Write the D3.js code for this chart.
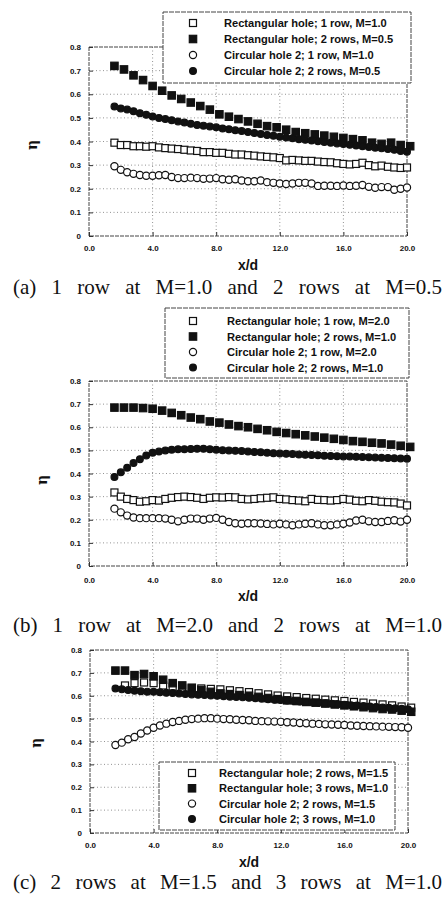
<!DOCTYPE html>
<html>
<head>
<meta charset="utf-8">
<script src="https://cdn.jsdelivr.net/npm/d3@7"></script>
<style>
  body { margin: 0; background: #fff; }
  svg { display: block; }
</style>
</head>
<body>
<svg id="chart" width="445" height="902"></svg>
<script>
// x/d stations, dense series (every 0.4) and sparse series (every 0.6)
const xDense = [1.6, 2.0, 2.4, 2.8, 3.2, 3.6, 4.0, 4.4, 4.8, 5.2, 5.6, 6.0, 6.4, 6.8, 7.2, 7.6,
  8.0, 8.4, 8.8, 9.2, 9.6, 10.0, 10.4, 10.8, 11.2, 11.6, 12.0, 12.4, 12.8, 13.2, 13.6, 14.0,
  14.4, 14.8, 15.2, 15.6, 16.0, 16.4, 16.8, 17.2, 17.6, 18.0, 18.4, 18.8, 19.2, 19.6, 20.0];
const xSparse = [1.6, 2.2, 2.8, 3.4, 4.0, 4.6, 5.2, 5.8, 6.4, 7.0, 7.6, 8.2, 8.8, 9.4, 10.0, 10.6,
  11.2, 11.8, 12.4, 13.0, 13.6, 14.2, 14.8, 15.4, 16.0, 16.6, 17.2, 17.8, 18.4, 19.0, 19.6, 20.2];
const xSparseC = [2.2, 2.8, 3.4, 4.0, 4.6, 5.2, 5.8, 6.4, 7.0, 7.6, 8.2, 8.8, 9.4, 10.0, 10.6,
  11.2, 11.8, 12.4, 13.0, 13.6, 14.2, 14.8, 15.4, 16.0, 16.6, 17.2, 17.8, 18.4, 19.0, 19.6, 20.2];

const xTicks = [0, 4, 8, 12, 16, 20];
const yTicks = [0, 0.1, 0.2, 0.3, 0.4, 0.5, 0.6, 0.7, 0.8];

// ---- panel (a)
const aRect1 = [0.395, 0.385, 0.385, 0.38, 0.38, 0.378, 0.38, 0.375, 0.372, 0.37, 0.368, 0.365, 0.362, 0.36, 0.355, 0.355,
  0.352, 0.352, 0.348, 0.345, 0.345, 0.342, 0.34, 0.337, 0.335, 0.333, 0.33, 0.32, 0.322, 0.32, 0.318, 0.318,
  0.315, 0.313, 0.312, 0.308, 0.305, 0.303, 0.305, 0.31, 0.3, 0.295, 0.298, 0.293, 0.29, 0.288, 0.29];
const aRect2 = [0.72, 0.705, 0.68, 0.66, 0.635, 0.615, 0.595, 0.58, 0.565, 0.55, 0.535, 0.515, 0.505, 0.495, 0.485, 0.475,
  0.465, 0.46, 0.45, 0.44, 0.435, 0.43, 0.425, 0.42, 0.415, 0.41, 0.405, 0.395, 0.39, 0.395, 0.385, 0.38];
const aCirc1 = [0.295, 0.28, 0.27, 0.263, 0.258, 0.255, 0.255, 0.257, 0.258, 0.25, 0.245, 0.245, 0.247, 0.245, 0.242, 0.243,
  0.245, 0.24, 0.238, 0.24, 0.235, 0.232, 0.232, 0.235, 0.228, 0.225, 0.222, 0.22, 0.222, 0.225, 0.225, 0.222,
  0.212, 0.213, 0.213, 0.212, 0.214, 0.212, 0.213, 0.216, 0.208, 0.204, 0.207, 0.207, 0.196, 0.2, 0.205];
const aCirc2 = [0.548, 0.54, 0.535, 0.528, 0.52, 0.513, 0.506, 0.5, 0.495, 0.49, 0.485, 0.48, 0.475, 0.47, 0.467, 0.463,
  0.46, 0.455, 0.452, 0.448, 0.444, 0.44, 0.436, 0.432, 0.428, 0.424, 0.42, 0.417, 0.414, 0.41, 0.407, 0.404,
  0.401, 0.398, 0.395, 0.392, 0.389, 0.386, 0.383, 0.38, 0.377, 0.374, 0.371, 0.368, 0.365, 0.36, 0.357];

// ---- panel (b)
const bRect1 = [0.318, 0.3, 0.29, 0.285, 0.278, 0.28, 0.285, 0.283, 0.29, 0.295, 0.298, 0.3, 0.298, 0.295, 0.29, 0.295,
  0.297, 0.296, 0.298, 0.297, 0.29, 0.288, 0.29, 0.293, 0.295, 0.297, 0.29, 0.288, 0.285, 0.283, 0.28, 0.29,
  0.286, 0.285, 0.283, 0.285, 0.29, 0.287, 0.282, 0.28, 0.285, 0.282, 0.278, 0.276, 0.275, 0.27, 0.262];
const bRect2 = [0.685, 0.685, 0.685, 0.683, 0.68, 0.672, 0.662, 0.652, 0.642, 0.635, 0.625, 0.62, 0.612, 0.605, 0.6, 0.593,
  0.587, 0.58, 0.575, 0.57, 0.565, 0.56, 0.555, 0.55, 0.545, 0.54, 0.537, 0.533, 0.53, 0.525, 0.52, 0.515];
const bCirc1 = [0.248, 0.232, 0.218, 0.21, 0.207, 0.207, 0.207, 0.207, 0.205, 0.2, 0.193, 0.2, 0.205, 0.205, 0.2, 0.205,
  0.208, 0.2, 0.19, 0.185, 0.183, 0.185, 0.185, 0.184, 0.182, 0.18, 0.183, 0.18, 0.176, 0.18, 0.183, 0.185,
  0.18, 0.176, 0.176, 0.18, 0.183, 0.188, 0.197, 0.2, 0.193, 0.19, 0.19, 0.195, 0.198, 0.192, 0.2];
const bCirc2 = [0.385, 0.405, 0.425, 0.445, 0.462, 0.478, 0.49, 0.495, 0.5, 0.503, 0.505, 0.505, 0.506, 0.507, 0.507, 0.505,
  0.503, 0.501, 0.5, 0.498, 0.497, 0.495, 0.493, 0.492, 0.49, 0.488, 0.486, 0.485, 0.484, 0.482, 0.481, 0.48,
  0.479, 0.477, 0.476, 0.475, 0.474, 0.473, 0.472, 0.471, 0.47, 0.469, 0.468, 0.467, 0.466, 0.465, 0.464];

// ---- panel (c)
const cRect2 = [0.645, 0.655, 0.658, 0.655, 0.645, 0.64, 0.635, 0.632, 0.632, 0.63, 0.628, 0.624, 0.62, 0.616, 0.611,
  0.606, 0.601, 0.597, 0.594, 0.59, 0.587, 0.583, 0.58, 0.577, 0.573, 0.57, 0.566, 0.562, 0.558, 0.553, 0.548];
const cRect3 = [0.71, 0.71, 0.69, 0.695, 0.685, 0.67, 0.655, 0.645, 0.635, 0.625, 0.617, 0.61, 0.607, 0.603, 0.6, 0.595,
  0.59, 0.585, 0.58, 0.577, 0.573, 0.57, 0.566, 0.562, 0.558, 0.554, 0.55, 0.546, 0.542, 0.54, 0.535, 0.53];
const cCirc2 = [0.385, 0.395, 0.41, 0.42, 0.435, 0.448, 0.46, 0.47, 0.478, 0.485, 0.49, 0.495, 0.498, 0.5, 0.502, 0.502,
  0.5, 0.498, 0.497, 0.495, 0.494, 0.493, 0.49, 0.489, 0.488, 0.487, 0.486, 0.484, 0.483, 0.481, 0.48, 0.478,
  0.477, 0.475, 0.474, 0.473, 0.472, 0.47, 0.469, 0.468, 0.467, 0.466, 0.465, 0.464, 0.463, 0.462, 0.46];
const cCirc3 = [0.632, 0.628, 0.625, 0.622, 0.62, 0.618, 0.617, 0.615, 0.613, 0.612, 0.61, 0.608, 0.606, 0.604, 0.603, 0.601,
  0.6, 0.598, 0.596, 0.595, 0.593, 0.591, 0.589, 0.587, 0.585, 0.583, 0.581, 0.579, 0.577, 0.575, 0.573, 0.571,
  0.569, 0.567, 0.565, 0.563, 0.561, 0.559, 0.557, 0.555, 0.553, 0.551, 0.549, 0.547, 0.545, 0.543, 0.541];

// legend labels, in legend order: open square, filled square, open circle, filled circle
const aLabels = ["Rectangular hole; 1 row, M=1.0", "Rectangular hole; 2 rows, M=0.5",
  "Circular hole 2; 1 row, M=1.0", "Circular hole 2; 2 rows, M=0.5"];
const bLabels = ["Rectangular hole; 1 row, M=2.0", "Rectangular hole; 2 rows, M=1.0",
  "Circular hole 2; 1 row, M=2.0", "Circular hole 2; 2 rows, M=1.0"];
const cLabels = ["Rectangular hole; 2 rows, M=1.5", "Rectangular hole; 3 rows, M=1.0",
  "Circular hole 2; 2 rows, M=1.5", "Circular hole 2; 3 rows, M=1.0"];

const captions = ["(a) 1 row at M=1.0 and 2 rows at M=0.5",
  "(b) 1 row at M=2.0 and 2 rows at M=1.0",
  "(c) 2 rows at M=1.5 and 3 rows at M=1.0"];

const markers = ["openSquare", "square", "openCircle", "circle"];

// layout of each panel (frame, legend box, text rows)
const panels = [
  {
    frame: { left: 89, right: 407, top: 47, bottom: 236 },
    legend: { x: 163, y: 12, w: 248, h: 71, rowY: 23, rowStep: 16, markX: 193, textX: 224 },
    labels: aLabels,
    series: [[xDense, aRect1], [xSparse, aRect2], [xDense, aCirc1], [xDense, aCirc2]],
    yLabel: { x: 32, y: 145 }, tickY: 251, xdY: 270, capY: 294
  },
  {
    frame: { left: 89, right: 407, top: 381, bottom: 566 },
    legend: { x: 165, y: 308, w: 244, h: 70, rowY: 321, rowStep: 15.5, markX: 193, textX: 227 },
    labels: bLabels,
    series: [[xDense, bRect1], [xSparse, bRect2], [xDense, bCirc1], [xDense, bCirc2]],
    yLabel: { x: 42, y: 480 }, tickY: 583, xdY: 601, capY: 632
  },
  {
    frame: { left: 90, right: 408, top: 650, bottom: 833 },
    legend: { x: 159, y: 762, w: 236, h: 68, rowY: 773, rowStep: 15.3, markX: 192, textX: 219 },
    labels: cLabels,
    series: [[xSparseC, cRect2], [xSparse, cRect3], [xDense, cCirc2], [xDense, cCirc3]],
    yLabel: { x: 36, y: 743 }, tickY: 848, xdY: 867, capY: 889
  }
];

const svg = d3.select("#chart");
const ink = "#111";

function drawMarker(g, type, cx, cy) {
    if (type === "openSquare" || type === "square") {
        const s = type === "square" ? 7.4 : 7;
        g.append("rect")
            .attr("x", cx - s / 2).attr("y", cy - s / 2)
            .attr("width", s).attr("height", s)
            .attr("fill", type === "square" ? ink : "#fff")
            .attr("stroke", ink).attr("stroke-width", 1.2);
    } else {
        g.append("circle")
            .attr("cx", cx).attr("cy", cy)
            .attr("r", type === "circle" ? 3.4 : 3.6)
            .attr("fill", type === "circle" ? ink : "#fff")
            .attr("stroke", ink).attr("stroke-width", 1.2);
    }
}

panels.forEach((p, i) => {
    const f = p.frame;
    const g = svg.append("g");

    const x = d3.scaleLinear().domain([0, 20]).range([f.left, f.right]);
    const y = d3.scaleLinear().domain([0, 0.8]).range([f.bottom, f.top]);

    // dotted grid
    g.selectAll(".gx").data(xTicks.slice(1, -1)).join("line")
        .attr("x1", d => x(d)).attr("x2", d => x(d))
        .attr("y1", f.top).attr("y2", f.bottom)
        .attr("stroke", "#777").attr("stroke-width", 0.8).attr("stroke-dasharray", "1,2.5");
    g.selectAll(".gy").data(yTicks.slice(1, -1)).join("line")
        .attr("x1", f.left).attr("x2", f.right)
        .attr("y1", d => y(d)).attr("y2", d => y(d))
        .attr("stroke", "#777").attr("stroke-width", 0.8).attr("stroke-dasharray", "1,2.5");

    // frame
    g.append("rect")
        .attr("x", f.left).attr("y", f.top)
        .attr("width", f.right - f.left).attr("height", f.bottom - f.top)
        .attr("fill", "none").attr("stroke", "#444").attr("stroke-width", 1)
        .attr("stroke-dasharray", "4,1");

    // axes, ticks pointing inward
    const yAxis = g.append("g")
        .attr("transform", `translate(${f.left},0)`)
        .call(d3.axisLeft(y).tickValues(yTicks).tickSize(-4).tickPadding(8)
            .tickFormat(d => d === 0 ? "0" : d3.format(".1f")(d)));
    const xAxis = g.append("g")
        .attr("transform", `translate(0,${f.bottom})`)
        .call(d3.axisBottom(x).tickValues(xTicks).tickSize(-4).tickPadding(8)
            .tickFormat(d3.format(".1f")));
    [yAxis, xAxis].forEach(a => {
        a.select(".domain").remove();
        a.selectAll("line").attr("stroke", "#333");
        a.selectAll("text")
            .attr("font-family", "Arial, 'Liberation Sans', sans-serif")
            .attr("font-size", "8px").attr("font-weight", "bold").attr("fill", ink);
    });
    xAxis.selectAll("text").attr("y", null).attr("dy", null)
        .attr("transform", `translate(0,${p.tickY - f.bottom})`);

    // data markers
    p.series.forEach((s, k) => {
        const [xs, ys] = s;
        const sg = g.append("g");
        ys.forEach((v, j) => drawMarker(sg, markers[k], x(xs[j]), y(v)));
    });

    // legend
    const L = p.legend;
    const lg = svg.append("g");
    lg.append("rect")
        .attr("x", L.x).attr("y", L.y).attr("width", L.w).attr("height", L.h)
        .attr("fill", "#fff").attr("stroke", "#444").attr("stroke-width", 1)
        .attr("stroke-dasharray", "5,1");
    p.labels.forEach((lab, k) => {
        const ry = L.rowY + k * L.rowStep;
        drawMarker(lg, markers[k], L.markX, ry);
        lg.append("text")
            .attr("x", L.textX).attr("y", ry + 4)
            .attr("font-family", "Arial, 'Liberation Sans', sans-serif")
            .attr("font-size", "11.1px").attr("font-weight", "bold").attr("fill", ink)
            .text(lab);
    });

    // axis titles
    svg.append("text")
        .attr("transform", `translate(${p.yLabel.x},${p.yLabel.y}) rotate(-90)`)
        .attr("text-anchor", "middle").attr("dy", "0.35em")
        .attr("font-family", "'DejaVu Serif', serif").attr("font-size", "14px")
        .attr("font-weight", "bold").attr("fill", ink)
        .text("η");
    svg.append("text")
        .attr("x", (f.left + f.right) / 2).attr("y", p.xdY)
        .attr("text-anchor", "middle")
        .attr("font-family", "Arial, 'Liberation Sans', sans-serif")
        .attr("font-size", "14px").attr("font-weight", "bold").attr("fill", ink)
        .text("x/d");

    // justified caption
    const cap = svg.append("text")
        .attr("x", 13).attr("y", p.capY)
        .attr("font-family", "'Liberation Serif', 'Times New Roman', serif")
        .attr("font-size", "21px").attr("fill", ink)
        .text(captions[i]);
    const natural = cap.node().getComputedTextLength();
    const spaces = captions[i].split(" ").length - 1;
    cap.attr("word-spacing", Math.max(0, (429 - natural) / spaces));
});
</script>
</body>
</html>
